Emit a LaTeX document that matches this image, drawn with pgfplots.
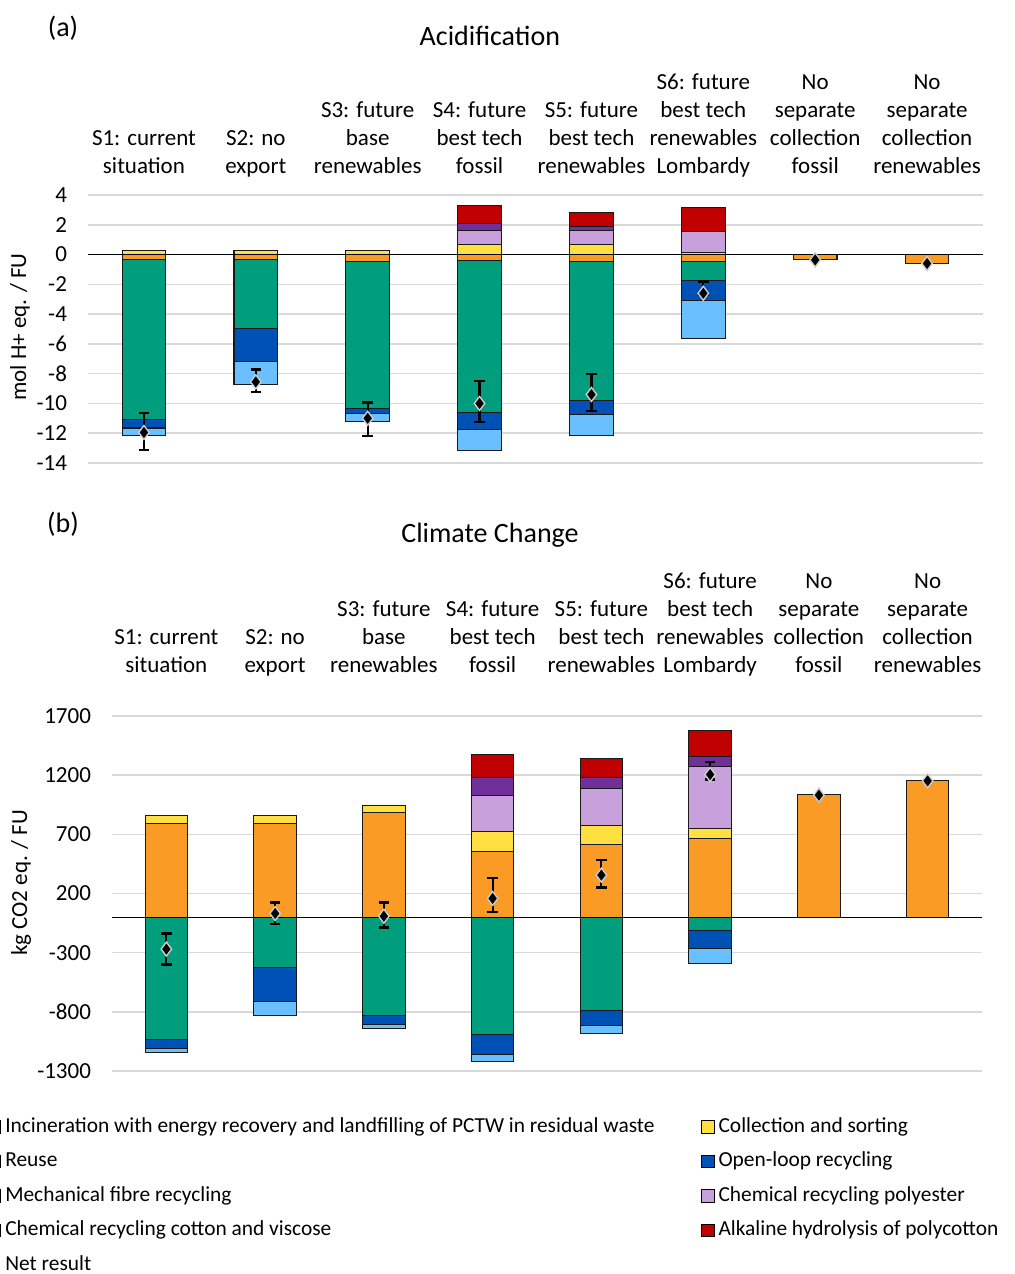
\documentclass[border=0pt]{standalone}
\usepackage{pgfplots}
\pgfplotsset{compat=1.18}
\usepackage{fontspec}
\setmainfont{Carlito}

\definecolor{cInc}{HTML}{F99B25}
\definecolor{cCol}{HTML}{FFE040}
\definecolor{cReu}{HTML}{009E7C}
\definecolor{cOpen}{HTML}{0051B5}
\definecolor{cMech}{HTML}{6ABFFF}
\definecolor{cPoly}{HTML}{C8A0DC}
\definecolor{cCot}{HTML}{70309A}
\definecolor{cAlk}{HTML}{C00000}
\definecolor{cGrid}{HTML}{D9D9D9}

\newcommand\catfont{\fontsize{11.5}{14}\selectfont}
\newcommand\titfont{\fontsize{14}{17}\selectfont}
\newcommand\legfont{\fontsize{10.7}{13}\selectfont}

\pgfplotsset{
  common/.style={scale only axis, xmin=-0.5, xmax=7.5, anchor=south west,
    axis line style={draw=none}, tick style={draw=none}},
  topgeo/.style={common, width=447.5pt, height=134pt, at={(44pt,405.5pt)}, ymin=-14, ymax=4},
  botgeo/.style={common, width=435pt, height=177.5pt, at={(56pt,101.5pt)}, ymin=-1300, ymax=1700},
  stk/.style={ybar stacked, bar width=0.39},
  seg/.style={fill=#1, draw=black!90, line width=0.55pt},
  deco/.style={ymajorgrids, grid style={cGrid, line width=0.8pt},
    xtick={0,...,7},
    xticklabels={{S1: current\\situation\strut},{S2: no\\export\strut},{S3: future\\base\\renewables\strut},
      {S4: future\\best tech\\fossil\strut},{S5: future\\best tech\\renewables\strut},
      {S6: future\\best tech\\renewables\\Lombardy\strut},{No\\separate\\collection\\fossil\strut},
      {No\\separate\\collection\\renewables\strut}},
    xticklabel pos=upper,
    xticklabel style={align=center, anchor=south, font=\catfont, inner sep=0pt},
    yticklabel style={font=\catfont, xshift=-7pt},
    /pgf/number format/assume math mode=true, /pgf/number format/1000 sep={},
    ylabel style={anchor=center, font=\catfont},
    title style={anchor=center, font=\titfont}},
  net/.style={only marks, mark=diamond*, mark size=3.5pt,
    mark options={fill=black, draw=white!80!black, line width=0.7pt}},
  neterr/.style={net, error bars/.cd, y dir=both, y explicit,
    error bar style={line width=1.1pt, black},
    error mark options={rotate=90, line width=1.3pt, mark size=2.6pt, black}, /pgfplots/.cd},
  legsq/.style={legend image code/.code={\draw[fill=#1,draw=black,line width=0.5pt] (0pt,-3.2pt) rectangle (6.5pt,3.2pt);}},
}

\begin{document}
\begin{tikzpicture}
\useasboundingbox (0,0) rectangle (507pt,637pt);

% ---------------- (a) Acidification ----------------
\node[font=\titfont] at (31.5pt,623pt) {(a)};
\begin{axis}[topgeo, stk, deco, ytick={-14,-12,...,4},
  xticklabel style={yshift=6.5pt},
  ylabel={mol H+ eq. / FU}, ylabel style={at={(rel axis cs:-0.076,0.507)}},
  title={Acidification}, title style={at={(rel axis cs:0.449,1.548)}}]
\addplot[seg=cCol] coordinates {(0,0.27) (1,0.27) (2,0.27) (3,0.67) (4,0.67) (5,0.15) (6,0) (7,0)};
\addplot[seg=cPoly] coordinates {(0,0) (1,0) (2,0) (3,0.96) (4,0.96) (5,1.42) (6,0) (7,0)};
\addplot[seg=cCot] coordinates {(0,0) (1,0) (2,0) (3,0.45) (4,0.27) (5,0) (6,0) (7,0)};
\addplot[seg=cAlk] coordinates {(0,0) (1,0) (2,0) (3,1.21) (4,0.90) (5,1.56) (6,0) (7,0)};
\end{axis}
\begin{axis}[topgeo, stk, hide axis]
\addplot[seg=cInc] coordinates {(0,-0.35) (1,-0.35) (2,-0.45) (3,-0.38) (4,-0.49) (5,-0.45) (6,-0.36) (7,-0.60)};
\addplot[seg=cReu] coordinates {(0,-10.74) (1,-4.59) (2,-9.89) (3,-10.21) (4,-9.29) (5,-1.27) (6,0) (7,0)};
\addplot[seg=cOpen] coordinates {(0,-0.56) (1,-2.23) (2,-0.36) (3,-1.16) (4,-0.97) (5,-1.35) (6,0) (7,0)};
\addplot[seg=cMech] coordinates {(0,-0.52) (1,-1.53) (2,-0.49) (3,-1.41) (4,-1.38) (5,-2.59) (6,0) (7,0)};
\end{axis}
\begin{axis}[topgeo, hide axis]
\draw[black, line width=0.6pt] (axis cs:-0.5,0) -- (axis cs:7.5,0);
\addplot[neterr] coordinates {
 (0,-11.95) += (0,1.32) -= (0,1.19)
 (1,-8.55) += (0,0.83) -= (0,0.69)
 (2,-11.0) += (0,1.08) -= (0,1.2)
 (3,-10.0) += (0,1.5) -= (0,1.24)
 (4,-9.4) += (0,1.39) -= (0,1.12)
 (5,-2.6) += (0,0.8) -= (0,0.1)};
\addplot[net] coordinates {(6,-0.36) (7,-0.6)};
\end{axis}

% ---------------- (b) Climate Change ----------------
\node[font=\titfont] at (31.5pt,375pt) {(b)};
\begin{axis}[botgeo, stk, deco, ytick={-1300,-800,...,1700},
  xticklabel style={yshift=17.5pt},
  ylabel={kg CO2 eq. / FU}, ylabel style={at={(rel axis cs:-0.1046,0.53)}},
  title={Climate Change}, title style={at={(rel axis cs:0.4345,1.476)}}]
\addplot[seg=cInc] coordinates {(0,795) (1,792) (2,882) (3,552) (4,617) (5,665) (6,1035) (7,1155)};
\addplot[seg=cCol] coordinates {(0,61) (1,64) (2,59) (3,169) (4,161) (5,85) (6,0) (7,0)};
\addplot[seg=cPoly] coordinates {(0,0) (1,0) (2,0) (3,307) (4,309) (5,526) (6,0) (7,0)};
\addplot[seg=cCot] coordinates {(0,0) (1,0) (2,0) (3,152) (4,91) (5,79) (6,0) (7,0)};
\addplot[seg=cAlk] coordinates {(0,0) (1,0) (2,0) (3,195) (4,163) (5,220) (6,0) (7,0)};
\end{axis}
\begin{axis}[botgeo, stk, hide axis]
\addplot[seg=cReu] coordinates {(0,-1034) (1,-428) (2,-828) (3,-992) (4,-786) (5,-116) (6,0) (7,0)};
\addplot[seg=cOpen] coordinates {(0,-76) (1,-288) (2,-76) (3,-166) (4,-133) (5,-152) (6,0) (7,0)};
\addplot[seg=cMech] coordinates {(0,-34) (1,-112) (2,-37) (3,-59) (4,-65) (5,-123) (6,0) (7,0)};
\end{axis}
\begin{axis}[botgeo, hide axis,
  legend columns=2, legend cell align=left,
  legend style={at={(rel axis cs:-0.1438,-0.1155)}, anchor=north west, draw=none, fill=none,
    inner sep=0pt, font=\legfont, row sep=2.75pt,
    nodes={inner sep=2pt, text height=8pt, text depth=2.5pt},
    /tikz/every even column/.append style={column sep=21pt}}]
\addlegendimage{legsq=cInc}\addlegendentry{Incineration with energy recovery and landfilling of PCTW in residual waste}
\addlegendimage{legsq=cCol}\addlegendentry{Collection and sorting}
\addlegendimage{legsq=cReu}\addlegendentry{Reuse}
\addlegendimage{legsq=cOpen}\addlegendentry{Open-loop recycling}
\addlegendimage{legsq=cMech}\addlegendentry{Mechanical fibre recycling}
\addlegendimage{legsq=cPoly}\addlegendentry{Chemical recycling polyester}
\addlegendimage{legsq=cCot}\addlegendentry{Chemical recycling cotton and viscose}
\addlegendimage{legsq=cAlk}\addlegendentry{Alkaline hydrolysis of polycotton}
\addlegendimage{legend image code/.code={\fill[black] (3.25pt,3.6pt) -- (5.9pt,0pt) -- (3.25pt,-3.6pt) -- (0.6pt,0pt) -- cycle;}}\addlegendentry{Net result}
\draw[black, line width=0.6pt] (axis cs:-0.5,0) -- (axis cs:7.5,0);
\addplot[forget plot, neterr] coordinates {
 (0,-270) += (0,132) -= (0,130)
 (1,31) += (0,93) -= (0,90)
 (2,8) += (0,116) -= (0,95)
 (3,158) += (0,174) -= (0,113)
 (4,355) += (0,127) -= (0,104)
 (5,1205) += (0,107) -= (0,40)};
\addplot[forget plot, net] coordinates {(6,1031) (7,1152)};
\end{axis}
\end{tikzpicture}
\end{document}
